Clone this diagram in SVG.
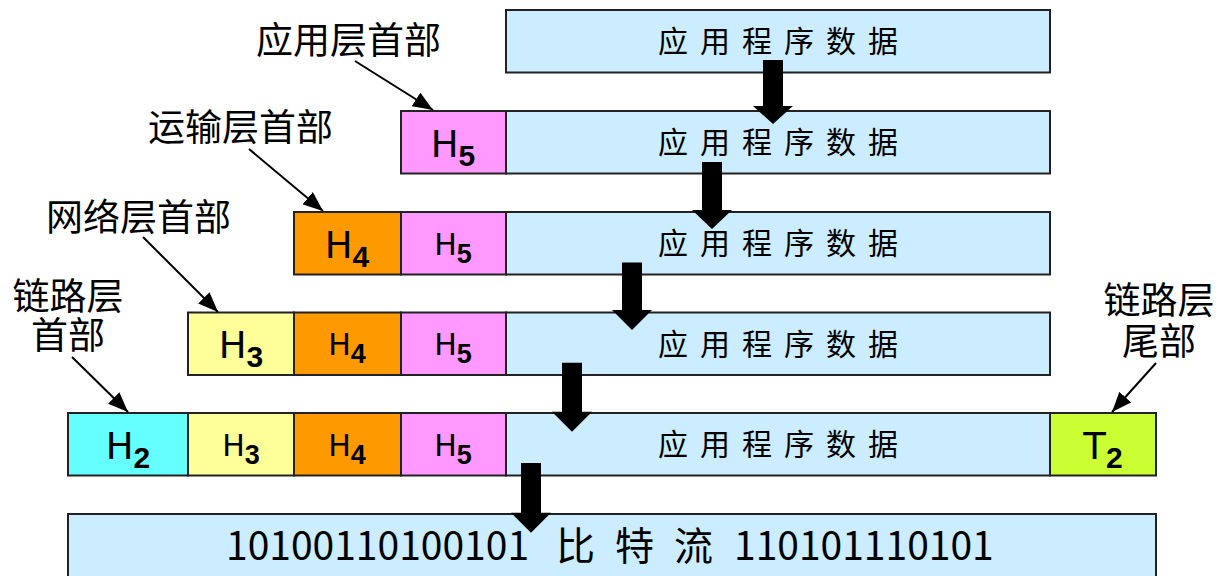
<svg xmlns="http://www.w3.org/2000/svg" width="1217" height="576" viewBox="0 0 1217 576">
<defs>
<style>
.box{stroke:#222;stroke-width:2}
.data{fill:#CCECFF}
.h5{fill:#FF99FF}
.h4{fill:#FF9900}
.h3{fill:#FFFF99}
.h2{fill:#66FFFF}
.t2{fill:#CCFF33}
.dt{font-family:"Noto Sans CJK SC",sans-serif;font-size:30px;letter-spacing:12px;fill:#000}
.lbl{font-family:"Noto Sans CJK SC",sans-serif;font-size:37px;fill:#000}
.hn{font-family:"DejaVu Sans",sans-serif;font-size:37px;fill:#000;text-anchor:middle}
.ho{font-family:"DejaVu Sans",sans-serif;font-size:30px;fill:#000;text-anchor:middle}
.sn{font-family:"Liberation Sans",sans-serif;font-weight:bold;font-size:30px}
.so{font-family:"Liberation Sans",sans-serif;font-weight:bold;font-size:27px}
.bits{font-family:"Noto Sans CJK SC",sans-serif;font-size:39px;fill:#000}
.ln{stroke:#000;stroke-width:2;fill:none;marker-end:url(#ah)}
.blk{fill:#000}
</style>
<marker id="ah" viewBox="0 0 20 16" refX="20" refY="8" markerWidth="20" markerHeight="16" markerUnits="userSpaceOnUse" orient="auto">
<path d="M0,0 L20,8 L0,16 z" fill="#000"/>
</marker>
</defs>
<rect width="1217" height="576" fill="#fff"/>

<g id="row1">
<rect class="box data" x="506" y="10" width="544" height="62.5"/>
<text class="dt" x="658" y="52">应用程序数据</text>
</g>

<g id="row2">
<rect class="box h5" x="401" y="111" width="105" height="62.5"/>
<text class="hn" x="453" y="156.5">H<tspan class="sn" dy="9">5</tspan></text>
<rect class="box data" x="506" y="111" width="544" height="62.5"/>
<text class="dt" x="658" y="153">应用程序数据</text>
</g>

<g id="row3">
<rect class="box h4" x="294" y="212" width="107" height="62.5"/>
<text class="hn" x="347" y="257.5">H<tspan class="sn" dy="9">4</tspan></text>
<rect class="box h5" x="401" y="212" width="105" height="62.5"/>
<text class="ho" x="453" y="254.5">H<tspan class="so" dy="8">5</tspan></text>
<rect class="box data" x="506" y="212" width="544" height="62.5"/>
<text class="dt" x="658" y="254">应用程序数据</text>
</g>

<g id="row4">
<rect class="box h3" x="188" y="312.5" width="106" height="62.5"/>
<text class="hn" x="241" y="358">H<tspan class="sn" dy="9">3</tspan></text>
<rect class="box h4" x="294" y="312.5" width="107" height="62.5"/>
<text class="ho" x="347" y="355">H<tspan class="so" dy="8">4</tspan></text>
<rect class="box h5" x="401" y="312.5" width="105" height="62.5"/>
<text class="ho" x="453" y="355">H<tspan class="so" dy="8">5</tspan></text>
<rect class="box data" x="506" y="312.5" width="544" height="62.5"/>
<text class="dt" x="658" y="354.5">应用程序数据</text>
</g>

<g id="row5">
<rect class="box h2" x="68" y="413" width="120" height="62.5"/>
<text class="hn" x="128" y="458.5">H<tspan class="sn" dy="9">2</tspan></text>
<rect class="box h3" x="188" y="413" width="106" height="62.5"/>
<text class="ho" x="241" y="455.5">H<tspan class="so" dy="8">3</tspan></text>
<rect class="box h4" x="294" y="413" width="107" height="62.5"/>
<text class="ho" x="347" y="455.5">H<tspan class="so" dy="8">4</tspan></text>
<rect class="box h5" x="401" y="413" width="105" height="62.5"/>
<text class="ho" x="453" y="455.5">H<tspan class="so" dy="8">5</tspan></text>
<rect class="box data" x="506" y="413" width="544" height="62.5"/>
<text class="dt" x="658" y="455">应用程序数据</text>
<rect class="box t2" x="1050" y="413" width="106" height="62.5"/>
<text class="hn" x="1103" y="458.5">T<tspan class="sn" dy="9">2</tspan></text>
</g>

<g id="bitstream">
<rect class="box data" x="68" y="514" width="1088" height="70"/>
<text class="bits" y="560"><tspan x="226">10100110100101</tspan><tspan x="556">比</tspan><tspan x="615">特</tspan><tspan x="674">流</tspan><tspan x="734">110101110101</tspan></text>
</g>

<g id="label-app">
<text class="lbl" x="256" y="54">应用层首部</text>
</g>
<g id="label-transport">
<text class="lbl" x="148" y="141">运输层首部</text>
</g>
<g id="label-network">
<text class="lbl" x="46" y="231">网络层首部</text>
</g>
<g id="label-link-head">
<text class="lbl" text-anchor="middle"><tspan x="68" y="310">链路层</tspan><tspan x="68" y="349">首部</tspan></text>
</g>
<g id="label-link-tail">
<text class="lbl" text-anchor="middle"><tspan x="1159" y="314">链路层</tspan><tspan x="1159" y="355">尾部</tspan></text>
</g>

<g id="connectors">
<line class="ln" x1="355" y1="61" x2="433" y2="110"/>
<line class="ln" x1="249" y1="149" x2="323" y2="211"/>
<line class="ln" x1="143" y1="237" x2="218" y2="312"/>
<line class="ln" x1="72" y1="357" x2="128" y2="412"/>
<line class="ln" x1="1156" y1="363" x2="1112" y2="412"/>
<path class="blk" d="M763,60 H783 V106 H793 L773,124 L753,106 H763 Z"/>
<path class="blk" d="M702,162 H722 V210 H732 L712,229 L692,210 H702 Z"/>
<path class="blk" d="M622,262.5 H642 V310 H652 L632,330 L612,310 H622 Z"/>
<path class="blk" d="M562,362.7 H582 V411.7 H592 L572,431.7 L552,411.7 H562 Z"/>
<path class="blk" d="M521,463 H541 V512.7 H551 L531,532.7 L511,512.7 H521 Z"/>
</g>
</svg>
